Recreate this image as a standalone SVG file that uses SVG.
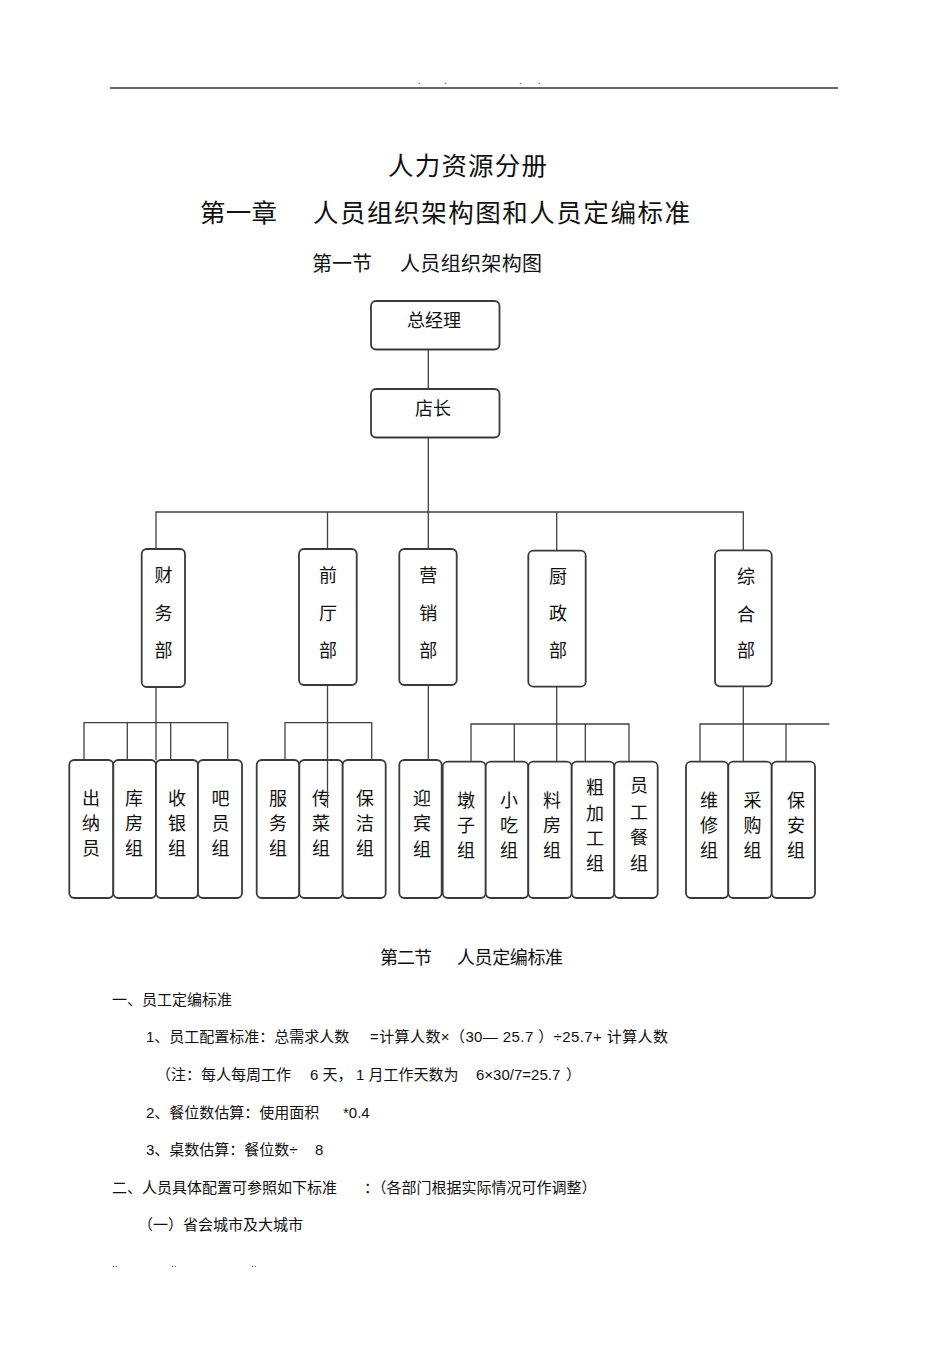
<svg xmlns="http://www.w3.org/2000/svg" width="950" height="1346" viewBox="0 0 950 1346">
<style>
.bg{fill:#ffffff}
.box{fill:#ffffff;stroke:#3a3a3a;stroke-width:1.8}
.con{fill:none;stroke:#404040;stroke-width:1.3}
.rule{stroke:#333333;stroke-width:1.4}
.h{font-family:"Noto Sans CJK SC","Liberation Sans",sans-serif;fill:#111111}
.n{font-family:"Noto Sans CJK SC","Liberation Sans",sans-serif;font-size:18px;fill:#111111;text-anchor:middle}
.t{font-family:"Liberation Sans","Noto Sans CJK SC",sans-serif;font-size:15px;fill:#111111}
.dot{font-family:"Liberation Sans",sans-serif;font-size:10px;fill:#333333}
</style>
<rect class="bg" x="0" y="0" width="950" height="1346"/>
<line class="rule" x1="110" y1="88" x2="838" y2="88"/>
<text class="dot" x="418" y="84">.</text>
<text class="dot" x="444" y="84">.</text>
<text class="dot" x="519" y="84">.</text>
<text class="dot" x="538" y="84">.</text>

<text class="h" x="388" y="175" font-size="25.5" textLength="159" lengthAdjust="spacing">人力资源分册</text>
<text class="h" x="200" y="222" font-size="25.5" textLength="77" lengthAdjust="spacing">第一章</text>
<text class="h" x="313" y="222" font-size="25.5" textLength="377" lengthAdjust="spacing">人员组织架构图和人员定编标准</text>
<text class="h" x="312" y="271" font-size="20" textLength="60" lengthAdjust="spacing">第一节</text>
<text class="h" x="400" y="271" font-size="20" textLength="142" lengthAdjust="spacing">人员组织架构图</text>

<g id="n-zjl"><rect class="box" x="371" y="301" width="128.5" height="48.5" rx="5"/><text class="n" x="434" y="327" font-size="16.5">总经理</text></g>
<g id="n-dz"><rect class="box" x="371" y="389" width="128.5" height="48.5" rx="5"/><text class="n" x="433" y="415" font-size="16.5">店长</text></g>

<g id="n-cwb"><rect class="box" x="141.7" y="549" width="43.3" height="138" rx="5"/><text class="n"><tspan x="163.5" y="581.5">财</tspan><tspan x="163.5" y="619.5">务</tspan><tspan x="163.5" y="656.5">部</tspan></text></g>
<g id="n-qtb"><rect class="box" x="299" y="549" width="57.7" height="136" rx="5"/><text class="n"><tspan x="328" y="581.5">前</tspan><tspan x="328" y="619.5">厅</tspan><tspan x="328" y="656.5">部</tspan></text></g>
<g id="n-yxb"><rect class="box" x="399.3" y="549" width="57.4" height="136" rx="5"/><text class="n"><tspan x="428.3" y="581.5">营</tspan><tspan x="428.3" y="619.5">销</tspan><tspan x="428.3" y="656.5">部</tspan></text></g>
<g id="n-czb"><rect class="box" x="528.3" y="550.7" width="57.4" height="136" rx="5"/><text class="n"><tspan x="558" y="582.5">厨</tspan><tspan x="558" y="620">政</tspan><tspan x="558" y="657">部</tspan></text></g>
<g id="n-zhb"><rect class="box" x="715" y="550.3" width="56.7" height="136" rx="5"/><text class="n"><tspan x="746" y="582.5">综</tspan><tspan x="746" y="620.5">合</tspan><tspan x="746" y="657">部</tspan></text></g>

<g id="n-cny"><rect class="box" x="69.3" y="760" width="44" height="138" rx="5"/><text class="n"><tspan x="91" y="805">出</tspan><tspan x="91" y="830">纳</tspan><tspan x="91" y="855">员</tspan></text></g>
<g id="n-kfz"><rect class="box" x="113.3" y="760" width="42.7" height="138" rx="5"/><text class="n"><tspan x="134" y="805">库</tspan><tspan x="134" y="830">房</tspan><tspan x="134" y="855">组</tspan></text></g>
<g id="n-syz"><rect class="box" x="156" y="760" width="42" height="138" rx="5"/><text class="n"><tspan x="177" y="805">收</tspan><tspan x="177" y="830">银</tspan><tspan x="177" y="855">组</tspan></text></g>
<g id="n-byz"><rect class="box" x="198" y="760" width="44" height="138" rx="5"/><text class="n"><tspan x="220.5" y="805">吧</tspan><tspan x="220.5" y="830">员</tspan><tspan x="220.5" y="855">组</tspan></text></g>

<g id="n-fwz"><rect class="box" x="256.7" y="760" width="42.6" height="138" rx="5"/><text class="n"><tspan x="278" y="805">服</tspan><tspan x="278" y="830">务</tspan><tspan x="278" y="855">组</tspan></text></g>
<g id="n-ccz"><rect class="box" x="299.3" y="760" width="43.4" height="138" rx="5"/><text class="n"><tspan x="321" y="805">传</tspan><tspan x="321" y="830">菜</tspan><tspan x="321" y="855">组</tspan></text></g>
<g id="n-bjz"><rect class="box" x="342.7" y="760" width="43" height="138" rx="5"/><text class="n"><tspan x="365" y="805">保</tspan><tspan x="365" y="830">洁</tspan><tspan x="365" y="855">组</tspan></text></g>

<g id="n-ybz"><rect class="box" x="399.3" y="760" width="42.4" height="138" rx="5"/><text class="n"><tspan x="422" y="805">迎</tspan><tspan x="422" y="830">宾</tspan><tspan x="422" y="856">组</tspan></text></g>
<g id="n-dzz"><rect class="box" x="442.7" y="761.7" width="43" height="136.3" rx="5"/><text class="n"><tspan x="466" y="807">墩</tspan><tspan x="466" y="832">子</tspan><tspan x="466" y="857">组</tspan></text></g>
<g id="n-xcz"><rect class="box" x="485.7" y="761.7" width="42.6" height="136.3" rx="5"/><text class="n"><tspan x="509" y="807">小</tspan><tspan x="509" y="832">吃</tspan><tspan x="509" y="857">组</tspan></text></g>
<g id="n-lfz"><rect class="box" x="528.3" y="761.7" width="43.4" height="136.3" rx="5"/><text class="n"><tspan x="552" y="807">料</tspan><tspan x="552" y="832">房</tspan><tspan x="552" y="857">组</tspan></text></g>
<g id="n-cjgz"><rect class="box" x="571.7" y="761.7" width="42.6" height="136.3" rx="5"/><text class="n"><tspan x="595" y="794">粗</tspan><tspan x="595" y="820">加</tspan><tspan x="595" y="845">工</tspan><tspan x="595" y="870">组</tspan></text></g>
<g id="n-ygcz"><rect class="box" x="614.3" y="761.7" width="43.4" height="136.3" rx="5"/><text class="n"><tspan x="639" y="792">员</tspan><tspan x="639" y="819">工</tspan><tspan x="639" y="844">餐</tspan><tspan x="639" y="870">组</tspan></text></g>

<g id="n-wxz"><rect class="box" x="686" y="761.7" width="42.3" height="136.3" rx="5"/><text class="n"><tspan x="709" y="807">维</tspan><tspan x="709" y="832">修</tspan><tspan x="709" y="857">组</tspan></text></g>
<g id="n-cgz"><rect class="box" x="728.3" y="761.7" width="43.4" height="136.3" rx="5"/><text class="n"><tspan x="752.5" y="807">采</tspan><tspan x="752.5" y="832">购</tspan><tspan x="752.5" y="857">组</tspan></text></g>
<g id="n-baz"><rect class="box" x="771.7" y="761.7" width="43.3" height="136.3" rx="5"/><text class="n"><tspan x="796" y="807">保</tspan><tspan x="796" y="832">安</tspan><tspan x="796" y="857">组</tspan></text></g>

<g id="connectors">
<path class="con" d="M428.3 349.3 V389"/>
<path class="con" d="M428.3 437.7 V549"/>
<path class="con" d="M156 549 V512 H743.3 V550.3"/>
<path class="con" d="M327.5 512 V549"/>
<path class="con" d="M556.7 512 V550.7"/>
<path class="con" d="M156 687 V760"/>
<path class="con" d="M84 760 V722.7 H227.7 V760"/>
<path class="con" d="M127.3 722.7 V760"/>
<path class="con" d="M170.7 722.7 V760"/>
<path class="con" d="M327.5 685 V808"/>
<path class="con" d="M285 760 V722.7 H371.7 V760"/>
<path class="con" d="M428.3 685 V760"/>
<path class="con" d="M556.7 686.7 V761.7"/>
<path class="con" d="M471 761.7 V724 H629 V761.7"/>
<path class="con" d="M514.3 724 V761.7"/>
<path class="con" d="M585.3 724 V761.7"/>
<path class="con" d="M743.3 686.3 V761.7"/>
<path class="con" d="M700 761.7 V724 H829.3"/>
<path class="con" d="M786 724 V761.7"/>
</g>

<text class="h" x="380" y="964" font-size="18" textLength="52" lengthAdjust="spacing">第二节</text>
<text class="h" x="457" y="964" font-size="18" textLength="106" lengthAdjust="spacing">人员定编标准</text>

<text class="t" x="112" y="1005">一、员工定编标准</text>
<text class="t" x="146" y="1042">1、员工配置标准：总需求人数</text>
<text class="t" x="370" y="1042" textLength="298" lengthAdjust="spacing">=计算人数×（30— 25.7 ）÷25.7+ 计算人数</text>
<text class="t" x="156" y="1080">（注：每人每周工作</text>
<text class="t" x="310" y="1080">6 天，</text>
<text class="t" x="356" y="1080">1 月工作天数为</text>
<text class="t" x="476" y="1080">6×30/7=25.7</text>
<text class="t" x="566" y="1080">）</text>
<text class="t" x="146" y="1118">2、餐位数估算：使用面积</text>
<text class="t" x="343" y="1118">*0.4</text>
<text class="t" x="146" y="1155">3、桌数估算：餐位数÷</text>
<text class="t" x="315" y="1155">8</text>
<text class="t" x="112" y="1193">二、人员具体配置可参照如下标准</text>
<text class="t" x="364" y="1193">：（各部门根据实际情况可作调整）</text>
<text class="t" x="138" y="1230">（一）省会城市及大城市</text>
<text class="dot" x="112" y="1267">..</text>
<text class="dot" x="171" y="1267">..</text>
<text class="dot" x="251" y="1267">..</text>
</svg>
